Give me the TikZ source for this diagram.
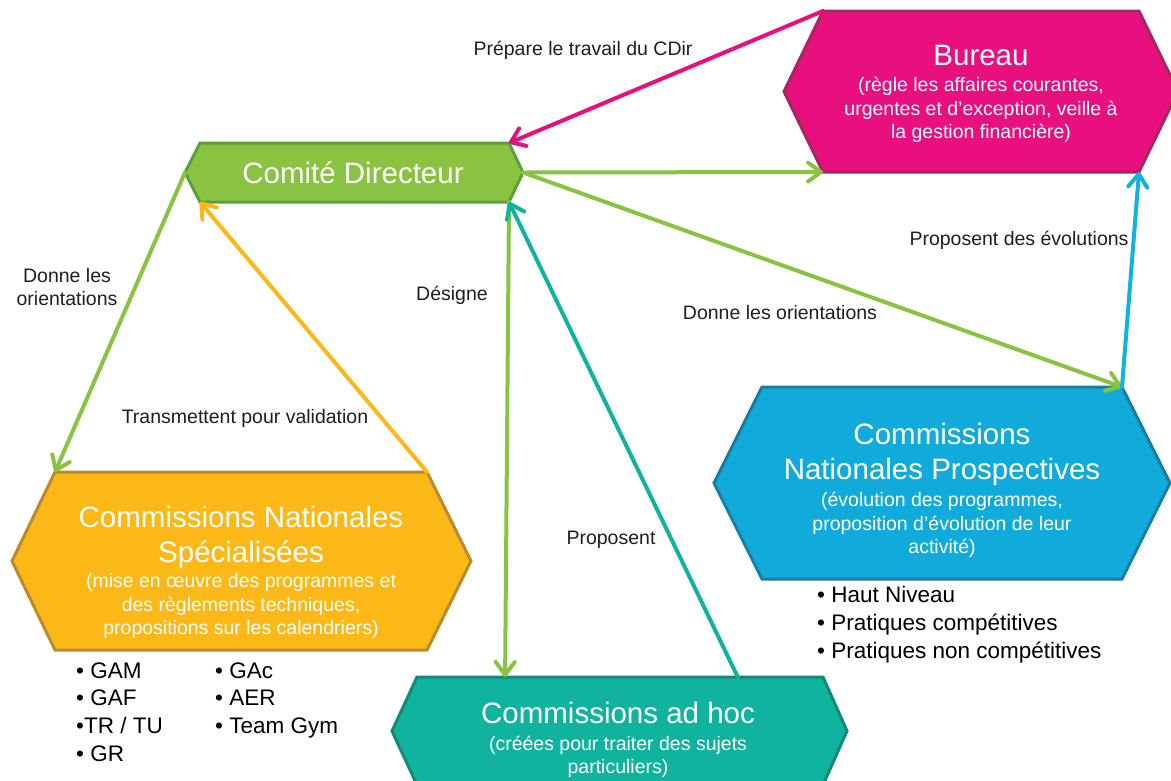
\documentclass[tikz,border=0pt]{standalone}
\usepackage{fontspec}
\setmainfont{Liberation Sans}
\usetikzlibrary{arrows.meta, calc}

\definecolor{burfill}{HTML}{E8107E}
\definecolor{burline}{HTML}{A8265F}
\definecolor{cdfill}{HTML}{8AC342}
\definecolor{cdline}{HTML}{5E9E3A}
\definecolor{cnsfill}{HTML}{FBB817}
\definecolor{cnsline}{HTML}{BC8A2B}
\definecolor{cnpfill}{HTML}{10ABDB}
\definecolor{cnpline}{HTML}{1B7DA0}
\definecolor{ahfill}{HTML}{10B39D}
\definecolor{ahline}{HTML}{138A78}
\definecolor{txtgray}{HTML}{1E1E1E}

\newcommand{\bigsize}{\fontsize{29.5}{35}\selectfont}
\newcommand{\subsize}{\fontsize{19.5}{23.3}\selectfont}
\newcommand{\lstsize}{\fontsize{22.5}{27.7}\selectfont}

% hexagon: name, fill, border, x left point, x top left, x top right, x right point, y top, y bottom
\newcommand{\hexshape}[9]{%
  \path[hex, fill=#2, draw=#3]
    (#4,{(#8+#9)/2}) coordinate (#1-l) -- (#5,#8) coordinate (#1-tl)
    -- (#6,#8) coordinate (#1-tr) -- (#7,{(#8+#9)/2}) coordinate (#1-r)
    -- (#6,#9) coordinate (#1-br) -- (#5,#9) coordinate (#1-bl) -- cycle;}

\begin{document}
\begin{tikzpicture}
            [x=1pt, y=-1pt,
              hex/.style={line width=3pt, line join=miter},
              arr/.style={line width=4pt, line cap=round,
                -{Straight Barb[length=13pt, width=19pt, round]}},
              ttl/.style={text=white, font=\bigsize, align=center},
              sub/.style={text=white, font=\subsize, align=center},
              lbl/.style={text=txtgray, font=\subsize, align=center},
              lst/.style={text=black, font=\lstsize, anchor=base west, inner sep=0pt}]
            \path[use as bounding box] (0,0) rectangle (1171,780);
            \clip (0,0) rectangle (1171,780);
            \hexshape{bur}{burfill}{burline}{784}{823}{1139}{1178}{11}{172}
            \hexshape{cd}{cdfill}{cdline}{185}{200}{509}{523}{143}{202}
            \hexshape{cns}{cnsfill}{cnsline}{12}{55}{427}{471}{472}{650}
            \hexshape{cnp}{cnpfill}{cnpline}{714}{762}{1122}{1170}{387}{579}
            \hexshape{ah}{ahfill}{ahline}{392}{417}{823}{847}{677}{785}
            \coordinate (ah-in) at ($(ah-tl)!0.217!(ah-tr)$);
            \coordinate (ah-out) at ($(ah-tl)!0.79!(ah-tr)$);
            \draw[arr, burfill] (bur-tl) -- (cd-tr);
            \draw[arr, cdfill] (cd-r) -- (bur-bl);
            \draw[arr, cdfill] (cd-r) -- (cnp-tr);
            \draw[arr, cnpfill!90!cyan] (cnp-tr) -- (bur-br);
            \draw[arr, cdfill] (cd-l) -- (cns-tl);
            \draw[arr, cnsfill] (cns-tr) -- (cd-bl);
            \draw[arr, cdfill] (cd-br) -- (ah-in);
            \draw[arr, ahfill] (ah-out) -- (cd-br);
            \node[ttl, anchor=base] (bur) at (981,65) {Bureau};
            \node[sub] (bur-txt) at (981,110) {(règle les affaires courantes,\\
              urgentes et d’exception, veille à\\la gestion financière)};
            \node[ttl, anchor=base] (cd) at (353,183) {Comité Directeur};
            \node[ttl] (cns) at (241,537) {Commissions Nationales\\Spécialisées};
            \node[sub] (cns-txt) at (241,606) {(mise en œuvre des programmes et\\
              des règlements techniques,\\propositions sur les calendriers)};
            \node[ttl] (cnp) at (942,454) {Commissions\\Nationales Prospectives};
            \node[sub] (cnp-txt) at (942,525) {(évolution des programmes,\\
              proposition d’évolution de leur\\activité)};
            \node[ttl, anchor=base] (ah) at (618,723) {Commissions ad hoc};
            \node[sub] (ah-txt) at (618,757) {(créées pour traiter des sujets\\particuliers)};
            \node[lbl, anchor=base] (l-prep) at (583,55) {Prépare le travail du CDir};
            \node[lbl] (l-orient) at (67,287) {Donne les\\orientations};
            \node[lbl, anchor=base] (l-trans) at (245,423) {Transmettent pour validation};
            \node[lbl, anchor=base] (l-desig) at (452,300) {Désigne};
            \node[lbl, anchor=base] (l-prop) at (611,544) {Proposent};
            \node[lbl, anchor=base] (l-donne) at (780,319) {Donne les orientations};
            \node[lbl, anchor=base] (l-evol) at (1019,245) {Proposent des évolutions};
            \foreach \t [count=\i from 0] in {• GAM, • GAF, •TR / TU, • GR}
              \node[lst] (gym\i) at (76,{678+27.7*\i}) {\t};
            \foreach \t [count=\i from 0] in {• GAc, • AER, • Team Gym}
              \node[lst] (gyb\i) at (215,{678+27.7*\i}) {\t};
            \foreach \t [count=\i from 0] in {• Haut Niveau, • Pratiques compétitives,
              • Pratiques non compétitives}
              \node[lst] (pra\i) at (817,{602+28*\i}) {\t};
        \end{tikzpicture}
\end{document}
